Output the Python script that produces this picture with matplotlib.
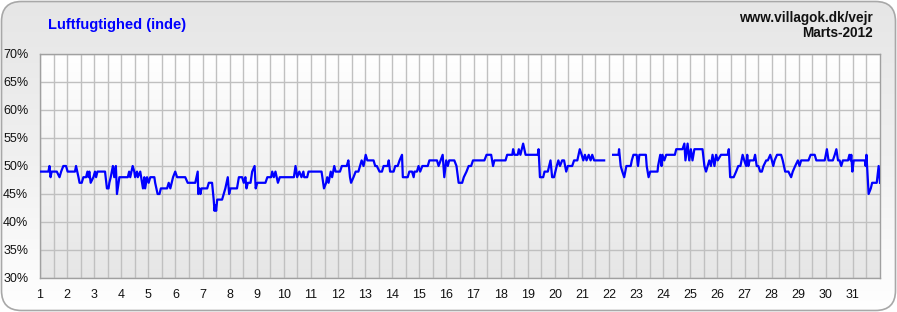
import numpy as np
import matplotlib.pyplot as plt
from matplotlib.patches import FancyBboxPatch
from matplotlib.colors import LinearSegmentedColormap

plt.rcParams['font.family'] = ['Liberation Sans', 'DejaVu Sans']

# day of month (fractional) and relative humidity indoors (%)
day = [1.00, 1.31, 1.35, 1.39, 1.43, 1.62, 1.72, 1.78, 1.86, 1.96, 2.02, 2.29, 2.33, 2.42, 2.46,
       2.54, 2.60, 2.70, 2.75, 2.79, 2.82, 2.87, 2.97, 3.03, 3.07, 3.12, 3.40, 3.47, 3.53, 3.56,
       3.61, 3.69, 3.74, 3.80, 3.84, 3.93, 4.24, 4.29, 4.33, 4.42, 4.48, 4.51, 4.58, 4.61, 4.70,
       4.80, 4.85, 4.88, 4.95, 5.01, 5.07, 5.22, 5.25, 5.34, 5.41, 5.46, 5.69, 5.75, 5.81, 5.91,
       5.99, 6.06, 6.36, 6.45, 6.73, 6.82, 6.84, 6.88, 6.92, 6.96, 7.17, 7.23, 7.35, 7.41, 7.44,
       7.47, 7.50, 7.54, 7.72, 7.78, 7.84, 7.93, 7.98, 8.03, 8.27, 8.34, 8.46, 8.52, 8.58, 8.62,
       8.67, 8.77, 8.83, 8.92, 8.96, 9.02, 9.32, 9.39, 9.53, 9.57, 9.63, 9.69, 9.78, 9.85, 10.37,
       10.43, 10.49, 10.57, 10.65, 10.72, 10.75, 10.86, 10.91, 11.39, 11.48, 11.56, 11.60, 11.65,
       11.73, 11.78, 11.86, 11.91, 12.07, 12.14, 12.32, 12.38, 12.44, 12.48, 12.57, 12.65, 12.75,
       12.81, 12.87, 12.94, 13.02, 13.08, 13.31, 13.37, 13.43, 13.53, 13.62, 13.68, 13.83, 13.87,
       13.92, 14.05, 14.11, 14.20, 14.27, 14.36, 14.39, 14.57, 14.63, 14.73, 14.79, 14.82, 14.91,
       14.97, 15.03, 15.11, 15.31, 15.37, 15.65, 15.71, 15.86, 15.92, 15.99, 16.05, 16.10, 16.29,
       16.37, 16.45, 16.58, 16.64, 16.74, 16.82, 16.91, 16.98, 17.40, 17.48, 17.65, 17.72, 17.77,
       18.18, 18.24, 18.43, 18.46, 18.51, 18.63, 18.67, 18.73, 18.83, 18.92, 19.37, 19.40, 19.45,
       19.57, 19.62, 19.74, 19.84, 19.90, 19.97, 20.07, 20.13, 20.19, 20.27, 20.34, 20.42, 20.48,
       20.64, 20.71, 20.83, 20.92, 20.99, 21.05, 21.11, 21.17, 21.25, 21.32, 21.38, 21.45, 21.82,
       21.98,
       22.15, 22.35, 22.37, 22.43, 22.49, 22.56, 22.64, 22.80, 22.84, 22.90, 23.02, 23.07, 23.12,
       23.36, 23.39, 23.46, 23.52, 23.79, 23.81, 23.89, 23.94, 23.97, 24.04, 24.11, 24.43, 24.48,
       24.71, 24.78, 24.82, 24.90, 24.96, 25.02, 25.08, 25.15, 25.45, 25.52, 25.58, 25.64, 25.70,
       25.76, 25.82, 25.89, 25.95, 26.01, 26.13, 26.38, 26.42, 26.47, 26.60, 26.69, 26.77, 26.85,
       26.93, 26.99, 27.06, 27.10, 27.14, 27.19, 27.34, 27.39, 27.45, 27.51, 27.58, 27.64, 27.70,
       27.80, 27.86, 27.95, 28.01, 28.06, 28.11, 28.20, 28.35, 28.41, 28.50, 28.62, 28.72, 28.78,
       28.87, 28.97, 29.03, 29.09, 29.36, 29.44, 29.59, 29.65, 29.96, 30.04, 30.10, 30.26, 30.33,
       30.39, 30.45, 30.51, 30.57, 30.63, 30.82, 30.87, 30.92, 30.94, 30.98, 31.03, 31.44, 31.47,
       31.50, 31.58, 31.66, 31.71, 31.88, 31.95, 32.00]
rh = [49, 49, 50, 48, 49, 49, 48, 49, 50, 50, 49, 49, 50, 48, 47,
      47, 48, 48, 49, 48, 49, 47, 48, 49, 48, 49, 49, 46, 46, 47,
      48, 50, 48, 50, 45, 48, 48, 49, 48, 50, 49, 48, 49, 48, 49,
      46, 48, 46, 48, 47, 48, 48, 47, 45, 45, 46, 46, 47, 46, 48,
      49, 48, 48, 47, 47, 49, 45, 46, 45, 46, 46, 47, 47, 44, 42,
      43, 42, 44, 44, 45, 46, 48, 45, 46, 46, 48, 48, 47, 48, 46,
      47, 47, 49, 50, 46, 47, 47, 48, 48, 49, 48, 49, 47, 48, 48,
      50, 48, 49, 48, 49, 48, 48, 49, 49, 46, 47, 48, 47,
      49, 48, 50, 49, 49, 50, 50, 51, 48, 47, 48, 49, 49,
      50, 51, 50, 52, 51, 51, 50, 50, 49, 49, 50, 50, 51,
      49, 49, 50, 50, 51, 52, 48, 48, 49, 49, 48, 49, 49,
      50, 49, 50, 50, 51, 51, 50, 52, 48, 51, 50, 51, 51,
      50, 47, 47, 48, 49, 50, 50, 51, 51, 52, 52, 50, 51,
      51, 52, 52, 53, 52, 52, 53, 52, 54, 52, 52, 53, 48,
      48, 49, 49, 51, 48, 48, 50, 51, 50, 51, 51, 49, 50,
      50, 51, 51, 53, 52, 51, 52, 51, 52, 51, 52, 51, 51,
      np.nan,
      52, 52, 53, 50, 49, 48, 50, 50, 51, 52, 52, 50, 52,
      52, 50, 48, 49, 49, 50, 52, 50, 52, 51, 52, 52, 53,
      53, 54, 51, 54, 51, 53, 51, 53, 53, 50, 49, 50, 51,
      50, 52, 50, 52, 51, 52, 52, 53, 48, 48, 49, 50, 50,
      52, 51, 50, 52, 50, 51, 51, 52, 50, 50, 49, 49, 50,
      51, 51, 52, 51, 50, 51, 52, 52, 51, 49, 49, 48, 49,
      50, 51, 50, 51, 51, 52, 52, 51, 51, 53, 51, 51, 52,
      53, 51, 51, 50, 51, 51, 52, 51, 52, 49, 51, 51, 50,
      52, 45, 46, 47, 47, 50, 47]

day_ticks = list(range(1, 32))
pct_ticks = list(range(30, 75, 5))

W, H = 897, 312
fig = plt.figure(figsize=(W / 100, H / 100), dpi=100)
fig.patch.set_facecolor('white')

# rounded outer panel with soft vertical gradient
bg = fig.add_axes([0, 0, 1, 1], zorder=-10)
bg.set_xlim(0, W)
bg.set_ylim(H, 0)
bg.axis('off')
grad = np.linspace(0, 1, 256).reshape(-1, 1)
panel_cmap = LinearSegmentedColormap.from_list('panel', ['#e6e6e6', '#f0f0f0', '#ffffff'])
img = bg.imshow(grad, extent=[0, W, H, 0], cmap=panel_cmap, aspect='auto')
frame = FancyBboxPatch((1.5, 1.5), W - 3, H - 3, boxstyle='round,pad=0,rounding_size=20',
                       fc='none', ec='#a8a8a8', lw=1.2)
bg.add_patch(frame)
img.set_clip_path(frame)

ax = fig.add_axes([40 / W, 34 / H, 840 / W, 224 / H])
plot_cmap = LinearSegmentedColormap.from_list('plotbg', ['#ffffff', '#e6e6e6'])
ax.imshow(grad, extent=[1, 32, 30, 70], cmap=plot_cmap, aspect='auto', zorder=0)

ax.plot(day, rh, color='#0000ff', lw=1.6, zorder=3)

ax.set_xlim(1, 32)
ax.set_ylim(30, 70)
ax.set_xticks(day_ticks)
ax.set_xticks(np.arange(1.5, 32, 1), minor=True)
ax.set_yticks(pct_ticks)
ax.set_yticklabels([f'{p}%' for p in pct_ticks])
ax.set_axisbelow(True)
ax.xaxis.grid(True, which='both', color='#c0c0c0', lw=1)
ax.yaxis.grid(True, which='major', color='#c0c0c0', lw=1)
ax.tick_params(which='both', length=0, labelsize=9, colors='#111111')
ax.tick_params(axis='x', pad=8)
ax.tick_params(axis='y', pad=8.5)
for s in ax.spines.values():
    s.set_color('#a0a0a0')
    s.set_linewidth(1)

fig.text(48 / W, 1 - 25 / H, 'Luftfugtighed (inde)', color='#0000ff', fontweight='bold',
         fontsize=10.5, ha='left', va='center')
fig.text(873 / W, 1 - 18 / H, 'www.villagok.dk/vejr', color='#111111', fontweight='bold',
         fontsize=9.8, ha='right', va='center')
fig.text(873 / W, 1 - 33 / H, 'Marts-2012', color='#111111', fontweight='bold',
         fontsize=9.8, ha='right', va='center')

fig.savefig('out.png', dpi=100)
